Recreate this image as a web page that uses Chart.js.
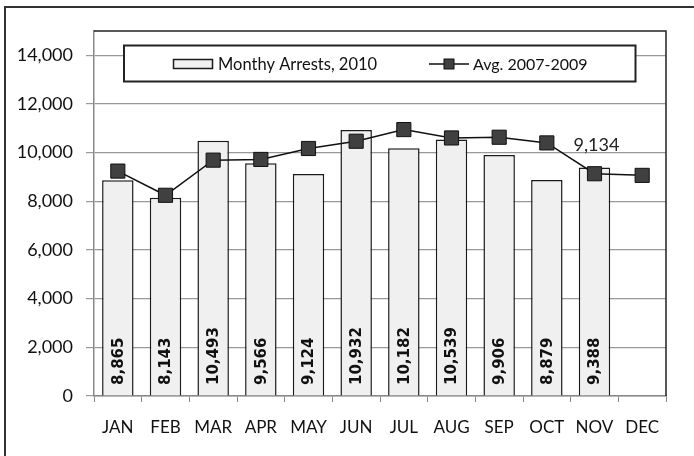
<!DOCTYPE html>
<html>
<head>
<meta charset="utf-8">
<script src="https://cdn.jsdelivr.net/npm/chart.js@4"></script>
<style>
html, body { margin: 0; padding: 0; background: #fff; }
#wrap { width: 694px; height: 456px; }
</style>
</head>
<body>
<div id="wrap"><canvas id="arrestChart" width="694" height="456"></canvas></div>
<script>
// data
var months = ['JAN', 'FEB', 'MAR', 'APR', 'MAY', 'JUN', 'JUL', 'AUG', 'SEP', 'OCT', 'NOV', 'DEC'];
var arrests2010 = [8865, 8143, 10493, 9566, 9124, 10932, 10182, 10539, 9906, 8879, 9388, null];
var avg2007to2009 = [9243, 8249, 9693, 9722, 10172, 10470, 10949, 10605, 10634, 10401, 9134, 9067];
var labelledAvgMonths = ['NOV'];
var yTicks = [0, 2000, 4000, 6000, 8000, 10000, 12000, 14000];

function fmt(v) { return Number(v).toLocaleString('en-US'); }

// outer frame + plot border
var framePlugin = {
    id: 'frame',
    beforeDraw: function(chart) {
        var ctx = chart.ctx;
        ctx.save();
        ctx.fillStyle = '#fff';
        ctx.fillRect(0, 0, chart.width, chart.height);
        ctx.strokeStyle = '#333';
        ctx.lineWidth = 2;
        ctx.strokeRect(5, 7, 760, 520);
        ctx.restore();
    },
    afterDraw: function(chart) {
        var ctx = chart.ctx, a = chart.chartArea;
        ctx.save();
        ctx.strokeStyle = '#222';
        ctx.lineWidth = 1.5;
        ctx.beginPath();
        ctx.moveTo(a.left, a.top);
        ctx.lineTo(a.right, a.top);
        ctx.lineTo(a.right, a.bottom);
        ctx.stroke();
        ctx.restore();
    }
};

// value labels: vertical inside bars, one label on the line
var labelPlugin = {
    id: 'valueLabels',
    afterDatasetsDraw: function(chart) {
        var ctx = chart.ctx;
        var y0 = chart.scales.y.getPixelForValue(0);
        ctx.save();
        ctx.fillStyle = '#111';
        ctx.font = 'bold 15px "DejaVu Sans"';
        chart.getDatasetMeta(1).data.forEach(function(bar, i) {
            var v = arrests2010[i];
            if (v == null) return;
            ctx.save();
            ctx.translate(bar.x + 1, y0 - 11);
            ctx.rotate(-Math.PI / 2);
            ctx.textAlign = 'left';
            ctx.textBaseline = 'middle';
            ctx.fillText(fmt(v), 0, 0);
            ctx.restore();
        });
        ctx.font = '18px Lato';
        ctx.fillStyle = '#222';
        ctx.textAlign = 'center';
        ctx.textBaseline = 'middle';
        chart.getDatasetMeta(0).data.forEach(function(pt, i) {
            if (labelledAvgMonths.indexOf(months[i]) < 0) return;
            ctx.fillText(fmt(avg2007to2009[i]), pt.x + 2, pt.y - 29);
        });
        ctx.restore();
    }
};

// boxed legend sitting inside the plot
var legendPlugin = {
    id: 'boxLegend',
    afterDraw: function(chart) {
        var ctx = chart.ctx;
        var barDs = chart.data.datasets[1], lineDs = chart.data.datasets[0];
        ctx.save();
        ctx.fillStyle = '#fff';
        ctx.fillRect(124, 45.5, 511.5, 36);
        ctx.strokeStyle = '#222';
        ctx.lineWidth = 2;
        ctx.strokeRect(124, 45.5, 511.5, 36);

        ctx.fillStyle = barDs.backgroundColor;
        ctx.strokeStyle = barDs.borderColor;
        ctx.lineWidth = 1.5;
        ctx.fillRect(173.5, 59.5, 39, 9);
        ctx.strokeRect(173.5, 59.5, 39, 9);

        ctx.font = '16.5px Lato';
        ctx.fillStyle = '#111';
        ctx.textAlign = 'left';
        ctx.textBaseline = 'middle';
        ctx.fillText(barDs.label, 218, 64.5);

        ctx.strokeStyle = lineDs.borderColor;
        ctx.lineWidth = 1.5;
        ctx.beginPath();
        ctx.moveTo(429, 64);
        ctx.lineTo(469, 64);
        ctx.stroke();
        ctx.fillStyle = lineDs.pointBackgroundColor;
        ctx.strokeStyle = lineDs.pointBorderColor;
        ctx.lineWidth = 1;
        ctx.fillRect(444, 59, 10, 10);
        ctx.strokeRect(444, 59, 10, 10);

        ctx.font = '16px Lato';
        ctx.fillStyle = '#111';
        ctx.fillText(lineDs.label, 473, 64.5);
        ctx.restore();
    }
};

var ctx = document.getElementById('arrestChart').getContext('2d');
var arrestChart = new Chart(ctx, {
    type: 'bar',
    data: {
        labels: months,
        datasets: [
            {
                type: 'line',
                label: 'Avg. 2007-2009',
                data: avg2007to2009,
                borderColor: '#111',
                borderWidth: 1.5,
                pointStyle: 'rect',
                pointRadius: 10,
                pointBackgroundColor: '#404040',
                pointBorderColor: '#111',
                pointBorderWidth: 1,
                tension: 0,
                fill: false,
                order: 0
            },
            {
                type: 'bar',
                label: 'Monthy Arrests, 2010',
                data: arrests2010,
                backgroundColor: '#f0f0f0',
                borderColor: '#1a1a1a',
                borderWidth: 1.5,
                barPercentage: 0.66,
                categoryPercentage: 1.0,
                order: 1
            }
        ]
    },
    options: {
        responsive: false,
        animation: false,
        layout: { padding: { left: 0, top: 31, right: 28, bottom: 0 } },
        plugins: {
            legend: { display: false },
            tooltip: { enabled: false }
        },
        scales: {
            x: {
                grid: { offset: true, drawOnChartArea: false, color: '#888', tickLength: 6 },
                border: { color: '#888', width: 1.5 },
                ticks: { font: { family: 'Lato', size: 17 }, color: '#111', padding: 15, maxRotation: 0 },
                afterFit: function(s) { s.height = 60; }
            },
            y: {
                min: 0,
                max: 15000,
                afterBuildTicks: function(s) { s.ticks = yTicks.map(function(v) { return { value: v }; }); },
                grid: { color: '#999', lineWidth: 1.2, tickLength: 8 },
                border: { color: '#888', width: 1.5 },
                ticks: { font: { family: 'Lato', size: 18 }, color: '#111', padding: 13, callback: function(v) { return fmt(v); } },
                afterFit: function(s) { s.width = 94; }
            }
        }
    },
    plugins: [framePlugin, labelPlugin, legendPlugin]
});
</script>
</body>
</html>
